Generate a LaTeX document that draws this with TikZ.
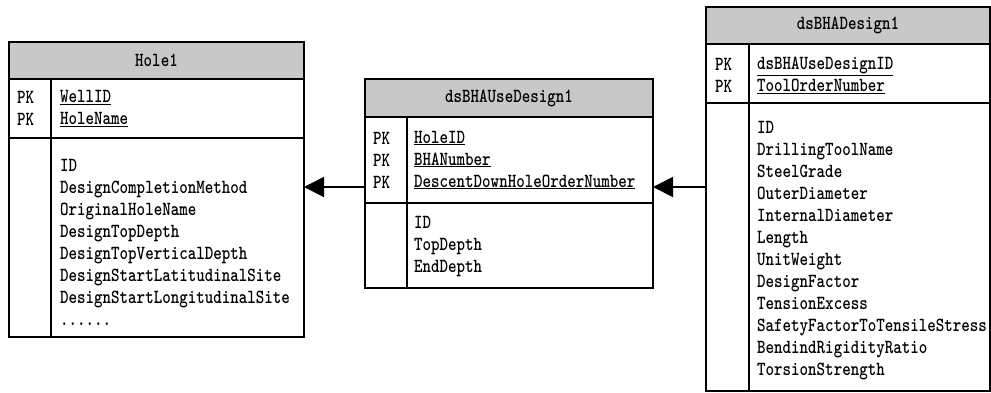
\documentclass[tikz,border=0pt]{standalone}
\usepackage{fontspec}
\newfontfamily\tabfont[FakeStretch=0.81]{lmmonolt10-bold.otf}
\usetikzlibrary{positioning,arrows.meta}
\definecolor{hdrgray}{RGB}{200,200,200}
\newcommand{\tabsize}{\tabfont\fontsize{20}{22}\selectfont}

\begin{document}
\begin{tikzpicture}[x=1pt, y=-1pt,
    hdr/.style={draw, fill=hdrgray, line width=1.5pt, outer sep=0pt, inner sep=0pt, font=\tabsize},
    sec/.style={draw, line width=1.5pt, outer sep=0pt, inner sep=0pt},
    txt/.style={align=left, inner sep=0pt, anchor=west, font=\tabsize},
    arrow/.style={-{Triangle[length=20pt,width=20pt]}, line width=1.8pt}]
    \useasboundingbox (0,0) rectangle (991,392);

    % Hole1
    \node[hdr, minimum width=295, minimum height=37] (hole) at (156.5,60.5) {Hole1};
    \node[sec, minimum width=295, minimum height=59, below=0pt of hole] (holekey) {};
    \node[sec, minimum width=295, minimum height=199, below=0pt of holekey] (holefld) {};
    \draw[line width=1.5pt] ([xshift=42]holekey.north west) -- ([xshift=42]holefld.south west);
    \node[txt] (holepk) at ([xshift=8]holekey.west) {PK\\PK};
    \node[txt] (holeid) at ([xshift=51]holekey.west) {\underline{WellID}\\\underline{HoleName}};
    \node[txt] (holeattr) at ([xshift=51,yshift=-4.5]holefld.west)
        {ID\\DesignCompletionMethod\\OriginalHoleName\\DesignTopDepth\\DesignTopVerticalDepth\\DesignStartLatitudinalSite\\DesignStartLongitudinalSite\\......};

    % dsBHAUseDesign1
    \node[hdr, minimum width=288, minimum height=38] (use) at (509,98) {dsBHAUseDesign1};
    \node[sec, minimum width=288, minimum height=86, below=0pt of use] (usekey) {};
    \node[sec, minimum width=288, minimum height=85, below=0pt of usekey] (usefld) {};
    \draw[line width=1.5pt] ([xshift=42]usekey.north west) -- ([xshift=42]usefld.south west);
    \node[txt] (usepk) at ([xshift=8]usekey.west) {PK\\PK\\PK};
    \node[txt] (useid) at ([xshift=49]usekey.west)
        {\underline{HoleID}\\\underline{BHANumber}\\\underline{DescentDownHoleOrderNumber}};
    \node[txt] (useattr) at ([xshift=49,yshift=-1]usefld.west) {ID\\TopDepth\\EndDepth};

    % dsBHADesign1
    \node[hdr, minimum width=284, minimum height=37] (des) at (848,25.5) {dsBHADesign1};
    \node[sec, minimum width=284, minimum height=59, below=0pt of des] (deskey) {};
    \node[sec, minimum width=284, minimum height=288, below=0pt of deskey] (desfld) {};
    \draw[line width=1.5pt] ([xshift=43]deskey.north west) -- ([xshift=43]desfld.south west);
    \node[txt] (despk) at ([xshift=9,yshift=-2]deskey.west) {PK\\PK};
    \node[txt] (desid) at ([xshift=51,yshift=-2]deskey.west)
        {\underline{dsBHAUseDesignID}\\\underline{ToolOrderNumber}};
    \node[txt] (desattr) at ([xshift=51,yshift=-4]desfld.west)
        {ID\\DrillingToolName\\SteelGrade\\OuterDiameter\\InternalDiameter\\Length\\UnitWeight\\DesignFactor\\TensionExcess\\SafetyFactorToTensileStress\\BendindRigidityRatio\\TorsionStrength};

    % links
    \draw[arrow] ([yshift=-27]usekey.west) coordinate (link) -- (link -| holefld.east);
    \draw[arrow] (desfld.west |- link) -- (link -| usekey.east);
\end{tikzpicture}
\end{document}
